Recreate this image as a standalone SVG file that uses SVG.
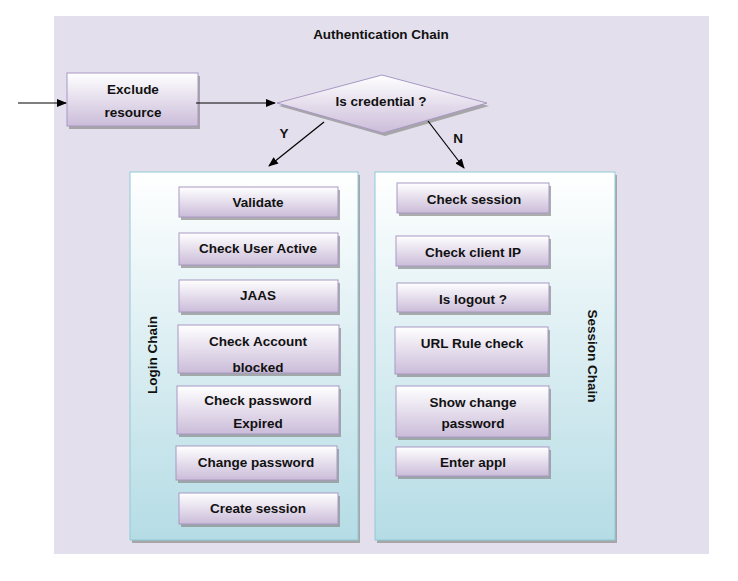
<svg xmlns="http://www.w3.org/2000/svg" width="738" height="581" viewBox="0 0 738 581">
<defs>
<linearGradient id="boxg" x1="0" y1="0" x2="0" y2="1">
<stop offset="0" stop-color="#ffffff"/>
<stop offset="1" stop-color="#cbbcd9"/>
</linearGradient>
<linearGradient id="contg" x1="0" y1="0" x2="0" y2="1">
<stop offset="0" stop-color="#ffffff"/>
<stop offset="1" stop-color="#b5dce5"/>
</linearGradient>
<marker id="arr" markerWidth="10" markerHeight="8" refX="9" refY="4" orient="auto" markerUnits="userSpaceOnUse">
<path d="M0,0 L10,4 L0,8 z" fill="#000"/>
</marker>
<clipPath id="clipCab"><rect x="178" y="325" width="161" height="48"/></clipPath>
</defs>
<style>
.t{font-family:"Liberation Sans",Arial,sans-serif;font-weight:bold;font-size:13.5px;fill:#111;text-anchor:middle}
.box{fill:url(#boxg);stroke:#a898c4;stroke-width:1}
.sh{fill:#8c8c8c;opacity:0.7}
.cont{fill:url(#contg);stroke:#8ccbd6;stroke-width:1}
.ln{stroke:#000;stroke-width:1.2;fill:none}
</style>
<rect x="54" y="16" width="655" height="538" fill="#e4dfec"/>
<text class="t" x="381" y="39">Authentication Chain</text>

<g id="login-chain">
<rect x="132" y="175" width="228" height="368" class="sh"/>
<rect x="130" y="172" width="228" height="368" class="cont"/>
<text class="t" transform="translate(157,355) rotate(-90)">Login Chain</text>
</g>
<g id="session-chain">
<rect x="377" y="175" width="240" height="368" class="sh"/>
<rect x="375" y="172" width="240" height="368" class="cont"/>
<text class="t" transform="translate(588,356) rotate(90)">Session Chain</text>
</g>

<g id="exclude">
<rect x="69" y="76" width="131" height="53" class="sh"/>
<rect x="67" y="73" width="131" height="53" class="box"/>
<text class="t" x="133" y="94">Exclude</text>
<text class="t" x="133" y="117">resource</text>
</g>
<g id="is-credential">
<polygon points="279,106 384,78 489,106 385,136" class="sh"/>
<polygon points="277,103 382,75 487,103 383,133" class="box"/>
<text class="t" x="381" y="106">Is credential ?</text>
</g>

<g id="validate"><rect x="181" y="190" width="159" height="30" class="sh"/><rect x="179" y="187" width="159" height="30" class="box"/><text class="t" x="258" y="207">Validate</text></g>
<g id="check-user-active"><rect x="181" y="236" width="159" height="32" class="sh"/><rect x="179" y="233" width="159" height="32" class="box"/><text class="t" x="258" y="253">Check User Active</text></g>
<g id="jaas"><rect x="181" y="283" width="159" height="32" class="sh"/><rect x="179" y="280" width="159" height="32" class="box"/><text class="t" x="258" y="300">JAAS</text></g>
<g id="check-account-blocked"><rect x="180" y="328" width="161" height="48" class="sh"/><rect x="178" y="325" width="161" height="48" class="box"/><text class="t" x="258" y="346">Check Account</text><text class="t" x="258" y="372" clip-path="url(#clipCab)">blocked</text></g>
<g id="check-password-expired"><rect x="179" y="389" width="162" height="48" class="sh"/><rect x="177" y="386" width="162" height="48" class="box"/><text class="t" x="258" y="405">Check password</text><text class="t" x="258" y="428">Expired</text></g>
<g id="change-password"><rect x="178" y="449" width="161" height="34" class="sh"/><rect x="176" y="446" width="161" height="34" class="box"/><text class="t" x="256" y="467">Change password</text></g>
<g id="create-session"><rect x="181" y="496" width="159" height="31" class="sh"/><rect x="179" y="493" width="159" height="31" class="box"/><text class="t" x="258" y="513">Create session</text></g>

<g id="check-session"><rect x="399" y="186" width="152" height="30" class="sh"/><rect x="397" y="183" width="152" height="30" class="box"/><text class="t" x="474" y="204">Check session</text></g>
<g id="check-client-ip"><rect x="398" y="239" width="153" height="30" class="sh"/><rect x="396" y="236" width="153" height="30" class="box"/><text class="t" x="473" y="257">Check client IP</text></g>
<g id="is-logout"><rect x="399" y="286" width="152" height="29" class="sh"/><rect x="397" y="283" width="152" height="29" class="box"/><text class="t" x="473" y="304">Is logout ?</text></g>
<g id="url-rule-check"><rect x="397" y="330" width="153" height="47" class="sh"/><rect x="395" y="327" width="153" height="47" class="box"/><text class="t" x="472" y="348">URL Rule check</text></g>
<g id="show-change-password"><rect x="398" y="389" width="153" height="51" class="sh"/><rect x="396" y="386" width="153" height="51" class="box"/><text class="t" x="473" y="407">Show change</text><text class="t" x="473" y="428">password</text></g>
<g id="enter-appl"><rect x="398" y="450" width="153" height="29" class="sh"/><rect x="396" y="447" width="153" height="29" class="box"/><text class="t" x="473" y="467">Enter appl</text></g>

<g id="connectors">
<line x1="18" y1="103" x2="66" y2="103" class="ln" marker-end="url(#arr)"/>
<line x1="196" y1="103" x2="275" y2="103" class="ln" marker-end="url(#arr)"/>
<line x1="324" y1="122" x2="269" y2="166" class="ln" marker-end="url(#arr)"/>
<line x1="428" y1="121" x2="464" y2="168" class="ln" marker-end="url(#arr)"/>
<text class="t" x="284" y="138">Y</text>
<text class="t" x="458" y="143">N</text>
</g>
</svg>
